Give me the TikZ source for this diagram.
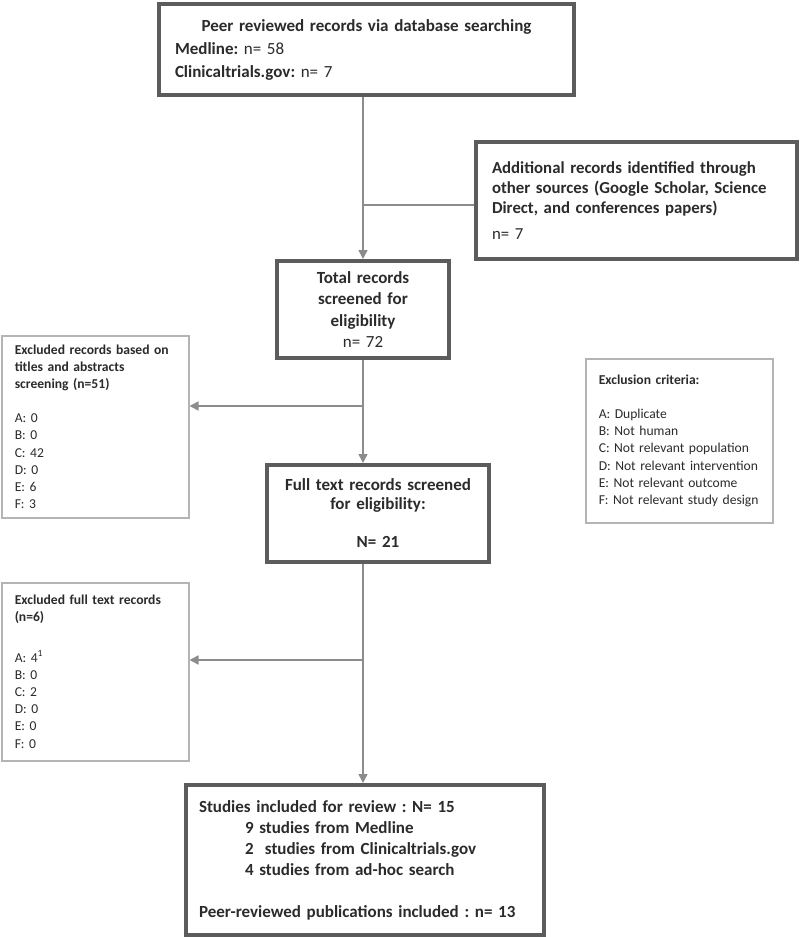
\documentclass[tikz,border=0pt]{standalone}
\usepackage{fontspec}
\setmainfont{Carlito}
\usepackage{tikz}
\usetikzlibrary{arrows.meta, positioning, calc}
\frenchspacing
\definecolor{boxline}{HTML}{5C5C5C}
\definecolor{sideline}{HTML}{B4B4B4}
\definecolor{flowline}{HTML}{8C8C8C}
\definecolor{txt}{HTML}{2B2B2B}
\tikzset{
    mainbox/.style={draw=boxline, line width=4pt, fill=white, anchor=north west,
        inner ysep=0pt, align=center, text=txt,
        font=\fontsize{17}{21.5}\selectfont\bfseries},
    sidebox/.style={draw=sideline, line width=1.5pt, fill=white, anchor=north west,
        inner xsep=13pt, inner ysep=0pt, align=left, text=txt,
        font=\fontsize{13.6}{17.2}\selectfont},
    flow/.style={draw=flowline, line width=1.5pt,
        -{Triangle[length=9pt, width=9pt]}},
    link/.style={draw=flowline, line width=1.5pt},
}

\begin{document}
\begin{tikzpicture}[x=1pt, y=-1pt]
        \useasboundingbox (0,0) rectangle (800,937);

        % Hauptkette
        \node[mainbox, minimum width=415pt, minimum height=91pt, inner xsep=16pt,
            text width=383pt, align=left,
            font=\fontsize{17}{23}\selectfont] (db) at (157,2)
            {\makebox[\linewidth][c]{\bfseries Peer reviewed records via database searching}\\
            \textbf{Medline:} n= 58\\
            \textbf{Clinicaltrials.gov:} n= 7};

        \node[mainbox, minimum width=321pt, minimum height=117pt, inner xsep=16pt,
            text width=289pt, align=left,
            font=\fontsize{16.8}{20}\selectfont] (add) at (474,140)
            {\textbf{Additional records identified through}\\
            \textbf{other sources (Google Scholar, Science}\\
            \textbf{Direct, and conferences papers)}\\[6pt]
            n= 7};

        \node[mainbox, minimum width=172pt, minimum height=97pt, text width=160pt] (total) at (275,259)
            {Total records\\ screened for\\ eligibility\\ \mdseries n= 72};

        \node[mainbox, minimum width=222pt, minimum height=97pt, text width=210pt,
            font=\fontsize{17}{19}\selectfont\bfseries] (full) at (265,463)
            {Full text records screened\\ for eligibility:\\[19pt] N= 21};

        \node[mainbox, minimum width=358pt, minimum height=150pt, inner xsep=13pt,
            text width=332pt, align=left,
            font=\fontsize{17}{21}\selectfont\bfseries] (incl) at (184,783)
            {Studies included for review : N= 15\\
            \hspace*{46pt}9 studies from Medline\\
            \hspace*{46pt}2\ \ studies from Clinicaltrials.gov\\
            \hspace*{46pt}4 studies from ad-hoc search\\[21pt]
            Peer-reviewed publications included : n= 13};

        % Ausschlusskaesten
        \node[sidebox, minimum width=187pt, minimum height=182pt, text width=161pt] (ex1) at (1,335)
            {\textbf{Excluded records based on}\\
            \textbf{titles and abstracts}\\
            \textbf{screening (n=51)}\\[17pt]
            A: 0\\ B: 0\\ C: 42\\ D: 0\\ E: 6\\ F: 3};

        \node[sidebox, minimum width=187pt, minimum height=164pt, text width=161pt] (crit) at (585,358)
            {\textbf{Exclusion criteria:}\\[17pt]
            A: Duplicate\\ B: Not human\\ C: Not relevant population\\
            D: Not relevant intervention\\ E: Not relevant outcome\\
            F: Not relevant study design};

        \node[sidebox, minimum width=187pt, minimum height=178pt, text width=161pt] (ex2) at (1,582)
            {\textbf{Excluded full text records}\\
            \textbf{(n=6)}\\[23pt]
            A: 4\textsuperscript{1}\\ B: 0\\ C: 2\\ D: 0\\ E: 0\\ F: 0};

        % Verbindungen
        \coordinate (spine) at (363,0);
        \coordinate (j1) at (363,205);
        \coordinate (j2) at (363,406);
        \coordinate (j3) at (363,660);

        \draw[flow] (db.south -| spine) -- (total.north -| spine);
        \draw[link] (j1) -- (j1 -| add.west);
        \draw[flow] (total.south -| spine) -- (full.north -| spine);
        \draw[flow] (j2) -- (j2 -| ex1.east);
        \draw[flow] (full.south -| spine) -- (incl.north -| spine);
        \draw[flow] (j3) -- (j3 -| ex2.east);
    \end{tikzpicture}
\end{document}
